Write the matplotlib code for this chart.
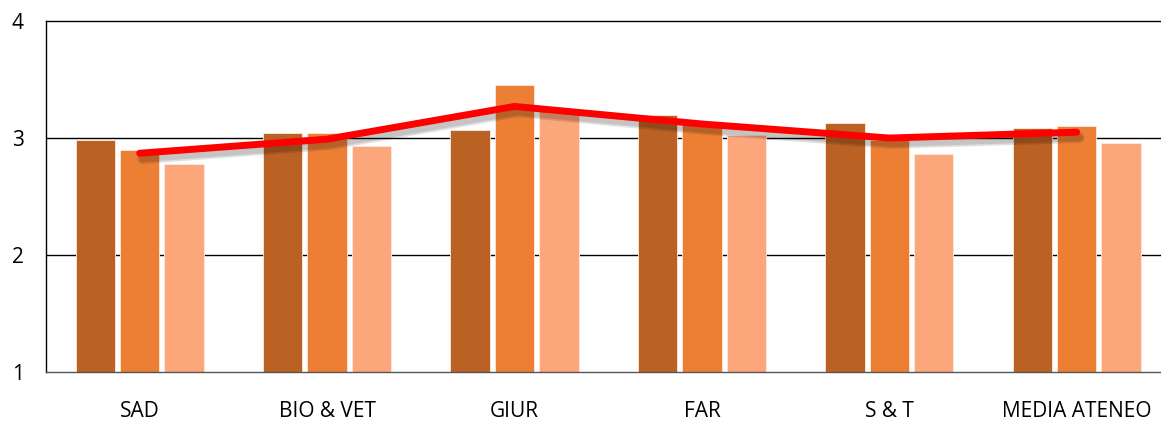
import numpy as np
import matplotlib
matplotlib.use('Agg')
import matplotlib.pyplot as plt
import matplotlib.patheffects as pe

categories = ['SAD', 'BIO & VET', 'GIUR', 'FAR', 'S & T', 'MEDIA ATENEO']
serie_1 = [2.98, 3.04, 3.07, 3.20, 3.13, 3.09]
serie_2 = [2.90, 3.04, 3.45, 3.13, 2.98, 3.10]
serie_3 = [2.78, 2.93, 3.24, 3.03, 2.86, 2.96]
media = [2.87, 2.99, 3.27, 3.12, 3.00, 3.05]

BAR_COLORS = ['#BA6124', '#ED7F35', '#FBA67B']

plt.rcParams['font.family'] = ['Open Sans', 'DejaVu Sans']

fig = plt.figure(figsize=(11.61, 4.21), dpi=100)
# plot area runs slightly past the right edge of the picture
ax = fig.add_axes([0.0396, 0.1164, 0.9685, 0.8336])

x = np.arange(len(categories))
width = 0.21
step = 0.237
for i, vals in enumerate([serie_1, serie_2, serie_3]):
    offs = (i - 1) * step
    ax.bar(x + offs, np.array(vals) - 1, width, bottom=1,
           color=BAR_COLORS[i], edgecolor='#FFE9DD', linewidth=0.6, zorder=2)

ax.plot(x, media, color='#FF0000', linewidth=5, solid_capstyle='round',
        solid_joinstyle='round', zorder=3,
        path_effects=[pe.SimpleLineShadow(offset=(2, -4), shadow_color='black',
                                          alpha=0.12, linewidth=7.5),
                      pe.SimpleLineShadow(offset=(2, -4), shadow_color='black',
                                          alpha=0.12),
                      pe.Normal()])

ax.set_xlim(-0.5, len(categories) - 0.5)
ax.set_ylim(1, 4)
ax.set_yticks([1, 2, 3, 4])
ax.set_yticklabels(['1', '2', '3', '4'], fontsize=15)
ax.set_xticks(x)
ax.set_xticklabels(categories, fontsize=15)
ax.tick_params(axis='both', length=0)
ax.tick_params(axis='x', pad=21)
ax.tick_params(axis='y', pad=16)

for yv in [2, 3]:
    ax.axhline(yv, color='black', linewidth=1.0, zorder=1)

ax.spines['right'].set_visible(False)
ax.spines['top'].set_color('black')
ax.spines['left'].set_color('black')
ax.spines['bottom'].set_color('#555555')
for s in ['top', 'left', 'bottom']:
    ax.spines[s].set_linewidth(1.0)

plt.savefig('out.png', dpi=100)
plt.close()
